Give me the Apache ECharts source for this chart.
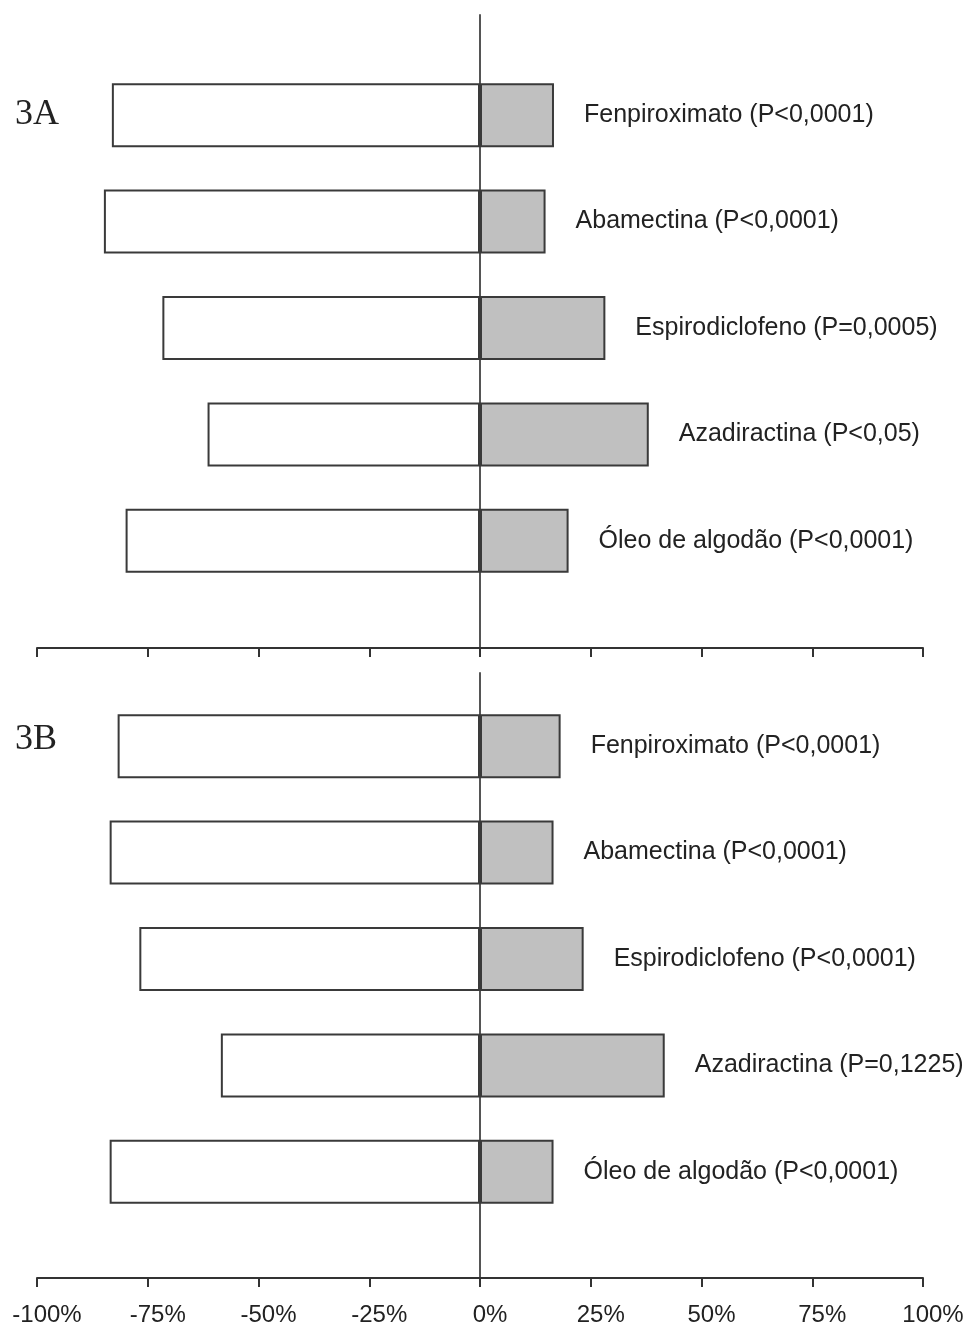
<!DOCTYPE html>
<html>
<head>
<meta charset="utf-8">
<script src="https://cdn.jsdelivr.net/npm/echarts@6/dist/echarts.min.js"></script>
<style>
html,body{margin:0;padding:0;background:#fff;}
#chart{width:968px;height:1327px;}
</style>
</head>
<body>
<div id="chart"></div>
<script>
// ---- Data ----
var categories = ['Fenpiroximato', 'Abamectina', 'Espirodiclofeno', 'Azadiractina', 'Óleo de algodão'];
var pValuesA = ['P<0,0001', 'P<0,0001', 'P=0,0005', 'P<0,05', 'P<0,0001'];
var pValuesB = ['P<0,0001', 'P<0,0001', 'P<0,0001', 'P=0,1225', 'P<0,0001'];
var negativeA = [-83.1, -84.9, -71.7, -61.5, -80.0];
var positiveA = [16.7, 14.8, 28.3, 38.1, 20.0];
var negativeB = [-81.8, -83.6, -76.9, -58.5, -83.6];
var positiveB = [18.2, 16.6, 23.4, 41.7, 16.6];
var tickValues = [-100, -75, -50, -25, 0, 25, 50, 75, 100];
var panelTitles = ['3A', '3B'];

// ---- Chart ----
var chart = echarts.init(document.getElementById('chart'), null, {renderer: 'canvas'});
var FONT = '"Liberation Sans", Arial, sans-serif';

function axisGridX(showLabels) {
  return {
    type: 'value', min: tickValues[0], max: tickValues[tickValues.length - 1], interval: 25,
    position: 'bottom',
    axisLine: {show: true, onZero: false, lineStyle: {color: '#333', width: 2}},
    axisTick: {show: true, inside: false, length: 9, lineStyle: {color: '#333', width: 2}},
    axisLabel: {show: showLabels, formatter: '{value}%', fontSize: 24, color: '#222', fontFamily: FONT, margin: 25, padding: [0, 0, 0, 20]},
    splitLine: {show: false}
  };
}
function axisGridY() {
  return {
    type: 'value', min: 0, max: 1,
    axisLine: {show: true, onZero: true, lineStyle: {color: '#555', width: 2}},
    axisTick: {show: false}, axisLabel: {show: false}, splitLine: {show: false}
  };
}
function barX() {
  return {type: 'value', min: -100, max: 100, show: false, splitLine: {show: false}};
}
function barY() {
  return {type: 'category', data: categories, inverse: true, show: false};
}
function makeLabel(pvals) {
  return {
    show: true, position: 'right', distance: 30,
    fontSize: 25, color: '#222', fontFamily: FONT,
    formatter: function (p) { return categories[p.dataIndex] + ' (' + pvals[p.dataIndex] + ')'; }
  };
}
var barStyleNeg = {color: '#ffffff', borderColor: '#3a3a3a', borderWidth: 2};
var barStylePos = {color: '#c0c0c0', borderColor: '#3a3a3a', borderWidth: 2};

var option = {
  backgroundColor: '#ffffff',
  animation: false,
  title: [
    {text: panelTitles[0], left: 10, top: 92, textStyle: {fontFamily: '"Liberation Serif", "Times New Roman", serif', fontSize: 36, fontWeight: 'normal', color: '#222'}},
    {text: panelTitles[1], left: 10, top: 717, textStyle: {fontFamily: '"Liberation Serif", "Times New Roman", serif', fontSize: 36, fontWeight: 'normal', color: '#222'}}
  ],
  grid: [
    {left: 37, right: 45, top: 15, height: 633},
    {left: 37, right: 45, top: 62, height: 532},
    {left: 37, right: 45, top: 673, height: 606},
    {left: 37, right: 45, top: 693, height: 532}
  ],
  xAxis: [
    Object.assign(axisGridX(false), {gridIndex: 0}),
    Object.assign(barX(), {gridIndex: 1}),
    Object.assign(axisGridX(true), {gridIndex: 2}),
    Object.assign(barX(), {gridIndex: 3})
  ],
  yAxis: [
    Object.assign(axisGridY(), {gridIndex: 0}),
    Object.assign(barY(), {gridIndex: 1}),
    Object.assign(axisGridY(), {gridIndex: 2}),
    Object.assign(barY(), {gridIndex: 3})
  ],
  series: [
    {type: 'bar', xAxisIndex: 1, yAxisIndex: 1, data: negativeA, barWidth: 64, barGap: '-100%', itemStyle: barStyleNeg, z: 1},
    {type: 'bar', xAxisIndex: 1, yAxisIndex: 1, data: positiveA, barWidth: 64, barGap: '-100%', itemStyle: barStylePos, label: makeLabel(pValuesA), z: 1},
    {type: 'bar', xAxisIndex: 3, yAxisIndex: 3, data: negativeB, barWidth: 64, barGap: '-100%', itemStyle: barStyleNeg, z: 1},
    {type: 'bar', xAxisIndex: 3, yAxisIndex: 3, data: positiveB, barWidth: 64, barGap: '-100%', itemStyle: barStylePos, label: makeLabel(pValuesB), z: 1}
  ]
};
chart.setOption(option);
</script>
</body>
</html>
